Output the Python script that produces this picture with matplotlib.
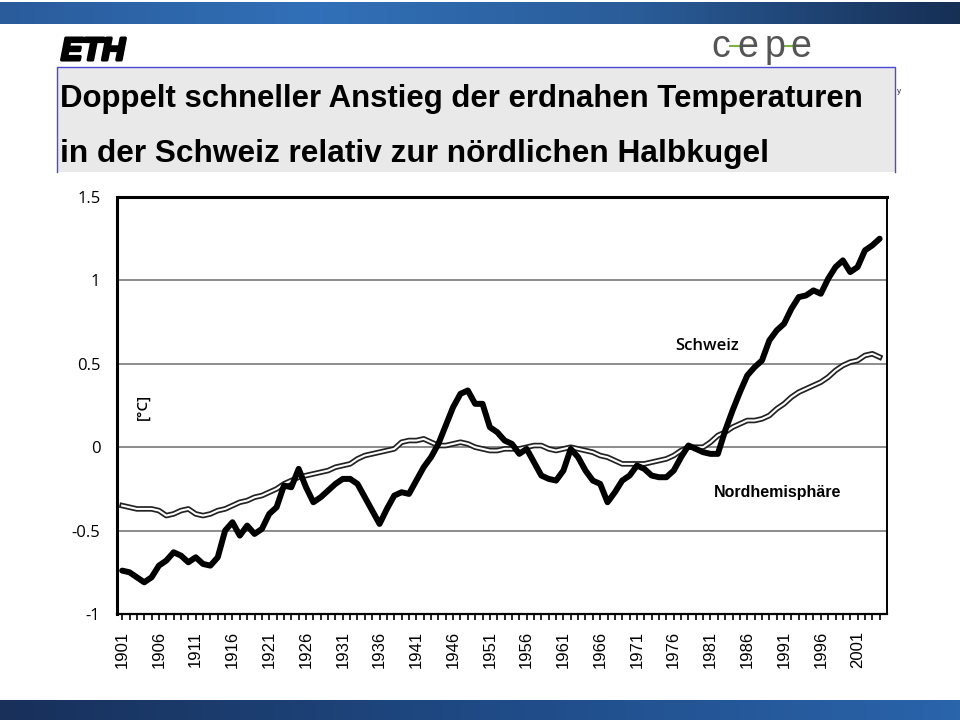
import numpy as np
import matplotlib
matplotlib.use("Agg")
import matplotlib.pyplot as plt
import matplotlib.patheffects as pe
from matplotlib.colors import LinearSegmentedColormap
from matplotlib.patches import Rectangle

# values (smoothed annual anomalies, degC)
years = list(range(1901, 2005))
schweiz = [-0.74, -0.75, -0.78, -0.81, -0.78, -0.71, -0.68, -0.63, -0.65, -0.69,
           -0.66, -0.70, -0.71, -0.66, -0.50, -0.45, -0.53, -0.47, -0.52, -0.49,
           -0.40, -0.36, -0.23, -0.24, -0.13, -0.24, -0.33, -0.30, -0.26, -0.22,
           -0.19, -0.19, -0.22, -0.30, -0.38, -0.46, -0.37, -0.29, -0.27, -0.28,
           -0.20, -0.12, -0.06, 0.02, 0.13, 0.24, 0.32, 0.34, 0.26, 0.26,
           0.12, 0.09, 0.04, 0.02, -0.04, -0.01, -0.09, -0.17, -0.19, -0.20,
           -0.14, -0.01, -0.06, -0.14, -0.20, -0.22, -0.33, -0.27, -0.20, -0.17,
           -0.11, -0.13, -0.17, -0.18, -0.18, -0.14, -0.06, 0.01, -0.01, -0.03,
           -0.04, -0.04, 0.10, 0.22, 0.33, 0.43, 0.48, 0.52, 0.64, 0.70,
           0.74, 0.83, 0.90, 0.91, 0.94, 0.92, 1.01, 1.08, 1.12, 1.05,
           1.08, 1.18, 1.21, 1.25]
nordhemi = [-0.35, -0.36, -0.37, -0.37, -0.37, -0.38, -0.41, -0.40, -0.38, -0.37,
            -0.40, -0.41, -0.40, -0.38, -0.37, -0.35, -0.33, -0.32, -0.30, -0.29,
            -0.27, -0.25, -0.22, -0.20, -0.18, -0.17, -0.16, -0.15, -0.14, -0.12,
            -0.11, -0.10, -0.07, -0.05, -0.04, -0.03, -0.02, -0.01, 0.03, 0.04,
            0.04, 0.05, 0.03, 0.01, 0.01, 0.02, 0.03, 0.02, 0.00, -0.01,
            -0.02, -0.02, -0.01, -0.01, -0.01, 0.00, 0.01, 0.01, -0.01, -0.02,
            -0.01, 0.00, -0.01, -0.02, -0.03, -0.05, -0.06, -0.08, -0.10, -0.10,
            -0.10, -0.10, -0.09, -0.08, -0.07, -0.05, -0.02, 0.00, 0.00, 0.00,
            0.03, 0.07, 0.09, 0.12, 0.14, 0.16, 0.16, 0.17, 0.19, 0.23,
            0.26, 0.30, 0.33, 0.35, 0.37, 0.39, 0.42, 0.46, 0.49, 0.51,
            0.52, 0.55, 0.56, 0.54]
label_years = [1901, 1906, 1911, 1916, 1921, 1926, 1931, 1936, 1941, 1946, 1951,
               1956, 1961, 1966, 1971, 1976, 1981, 1986, 1991, 1996, 2001]
y_ticks = [-1, -0.5, 0, 0.5, 1, 1.5]
y_labels = ['-1', '-0.5', '0', '0.5', '1', '1.5']
title_1 = "Doppelt schneller Anstieg der erdnahen Temperaturen"
title_2 = "in der Schweiz relativ zur nördlichen Halbkugel"

W, H = 960, 720
fig = plt.figure(figsize=(9.6, 7.2), dpi=100)

# slide background in pixel coordinates
bg = fig.add_axes([0, 0, 1, 1])
bg.axis('off')
grad = np.linspace(0, 1, 256).reshape(1, -1)
top_cmap = LinearSegmentedColormap.from_list('top', ['#2a5c9c', '#3170b8', '#2a5c98', '#162f55'])
bot_cmap = LinearSegmentedColormap.from_list('bot', ['#18305a', '#1f4a85', '#2a64ab'])
bg.imshow(grad, cmap=top_cmap, extent=(0, W, 24, 2), aspect='auto')
bg.imshow(grad, cmap=bot_cmap, extent=(0, W, 720, 700), aspect='auto')
bg.add_patch(Rectangle((57, 67), 838, 105, facecolor='#e9e9e9', edgecolor='none'))
bg.plot([57, 57, 895, 895], [172, 67, 67, 172], color='#4a4ad6', lw=1)
bg.set_xlim(0, W)
bg.set_ylim(H, 0)

sans = ['Liberation Sans', 'DejaVu Sans']
narrow = ['Liberation Sans Narrow', 'Liberation Sans', 'DejaVu Sans']
bg.text(61, 60, "ETH", family=sans, fontsize=23, fontweight='heavy',
        style='italic', color='black', va='baseline', ha='left',
        path_effects=[pe.withStroke(linewidth=2.2, foreground='black')])
for cx, ch in zip([721, 748, 775, 801], "cepe"):
    bg.text(cx, 57, ch, family=sans, fontsize=27, color='#555555',
            fontweight='light', va='baseline', ha='center')
bg.plot([730, 751], [46, 46], color='#7cb342', lw=1.5)
bg.plot([783, 803], [46, 46], color='#7cb342', lw=1.5)
bg.text(60, 107, title_1, family=narrow, fontsize=22.4, fontweight='bold',
        color='black', va='baseline', ha='left')
bg.text(60, 162, title_2, family=narrow, fontsize=22.8, fontweight='bold',
        color='black', va='baseline', ha='left')
bg.text(897, 93, "y", family=sans, fontsize=6, color='#333333', va='baseline')

# chart
ax = fig.add_axes([117 / W, 1 - 614 / H, (887 - 117) / W, (614 - 197) / H])
ax.set_facecolor('white')
ax.plot(years, nordhemi, color='#222222', lw=4.0, solid_joinstyle='round', zorder=3)
ax.plot(years, nordhemi, color='white', lw=1.5, solid_joinstyle='round', zorder=4)
ax.plot(years, schweiz, color='black', lw=4.3, solid_joinstyle='round',
        solid_capstyle='round', zorder=5)

ax.set_xlim(1900.3, 2005)
ax.set_ylim(-1, 1.5)
for v in y_ticks[1:-1]:
    ax.axhline(v, color='#6e6e6e', lw=1.1, zorder=1)

ax.set_yticks(y_ticks)
ax.set_yticklabels(y_labels, family=['Open Sans', 'DejaVu Sans'], fontsize=12)
ax.tick_params(axis='y', length=0, pad=12)
ax.set_xticks(label_years)
ax.set_xticklabels([str(y) for y in label_years], rotation=90,
                   family=sans, fontsize=12)
ax.set_xticks(years, minor=True)
ax.tick_params(axis='x', which='both', direction='out', length=4, width=1.2, pad=8)

ax.spines['top'].set_linewidth(2.2)
ax.spines['left'].set_linewidth(2.2)
ax.spines['right'].set_linewidth(1.4)
ax.spines['bottom'].set_linewidth(1.6)

ax.text(143, 407, "[°C]", transform=bg.transData, rotation=90, ha='center',
        va='center', family=['Open Sans', 'DejaVu Sans'], fontsize=11,
        fontweight='semibold')
ax.text(707, 346, "Schweiz", transform=bg.transData, ha='center', va='center',
        family=['Open Sans', 'DejaVu Sans'], fontsize=12, fontweight='semibold')
ax.text(778, 493, "Nordhemisphäre", transform=bg.transData, ha='center',
        va='center', family=sans, fontsize=11.5, fontweight='bold')

fig.savefig('out.png', dpi=100)
